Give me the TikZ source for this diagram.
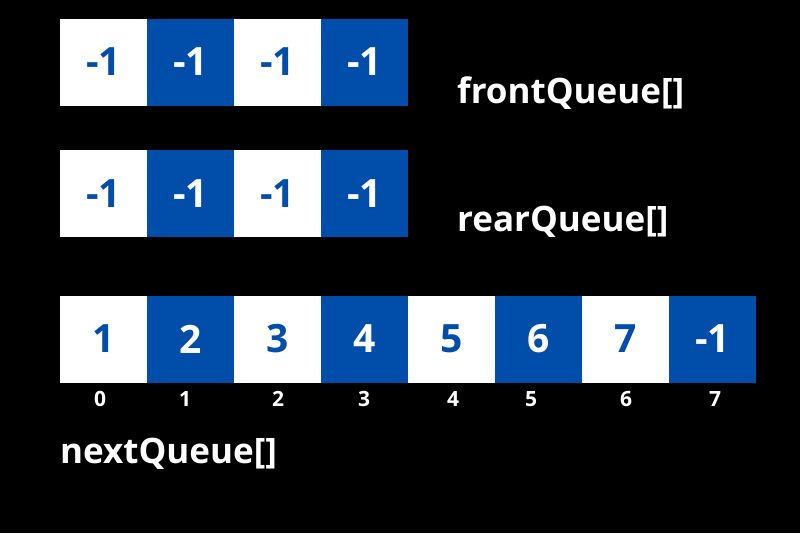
\documentclass[tikz,border=0pt]{standalone}
\usepackage{fontspec}
\setmainfont{Open Sans}
\usetikzlibrary{positioning}
\definecolor{qblue}{RGB}{0,77,170}

\begin{document}
\begin{tikzpicture}[x=1pt, y=-1pt,
        cell/.style={minimum width=87pt, minimum height=87pt, inner sep=0pt, font=\fontsize{39}{39}\selectfont\bfseries},
        wcell/.style={cell, fill=white, text=qblue},
        bcell/.style={cell, fill=qblue, text=white},
        idx/.style={text=white, font=\fontsize{21}{21}\selectfont\bfseries},
        qname/.style={anchor=base west, inner sep=0pt, text=white, font=\fontsize{35}{35}\selectfont\bfseries}]
        \fill [black] (0, 0) rectangle (800, 533);

        % frontQueue
        \node [wcell] (f0) at (103.5, 62) {-1};
        \node [bcell] (f1) at (190.5, 62) {-1};
        \node [wcell] (f2) at (277.5, 62) {-1};
        \node [bcell] (f3) at (364.5, 62) {-1};
        \node [qname] (fname) at (457, 103) {frontQueue[]};

        % rearQueue
        \node [wcell] (r0) at (103.5, 193.5) {-1};
        \node [bcell] (r1) at (190.5, 193.5) {-1};
        \node [wcell] (r2) at (277.5, 193.5) {-1};
        \node [bcell] (r3) at (364.5, 193.5) {-1};
        \node [qname] (rname) at (457, 231) {rearQueue[]};

        % nextQueue
        \node [wcell] (n0) at (103.5, 339) {1};
        \node [bcell] (n1) at (190.5, 339) {2};
        \node [wcell] (n2) at (277.5, 339) {3};
        \node [bcell] (n3) at (364.5, 339) {4};
        \node [wcell] (n4) at (451.5, 339) {5};
        \node [bcell] (n5) at (538.5, 339) {6};
        \node [wcell] (n6) at (625.5, 339) {7};
        \node [bcell] (n7) at (712.5, 339) {-1};

        \node [idx] (i0) at (100, 399) {0};
        \node [idx] (i1) at (185, 399) {1};
        \node [idx] (i2) at (278, 399) {2};
        \node [idx] (i3) at (364, 399) {3};
        \node [idx] (i4) at (453, 399) {4};
        \node [idx] (i5) at (531, 399) {5};
        \node [idx] (i6) at (626, 399) {6};
        \node [idx] (i7) at (715, 399) {7};

        \node [qname] (nname) at (60, 463) {nextQueue[]};
    \end{tikzpicture}
\end{document}
